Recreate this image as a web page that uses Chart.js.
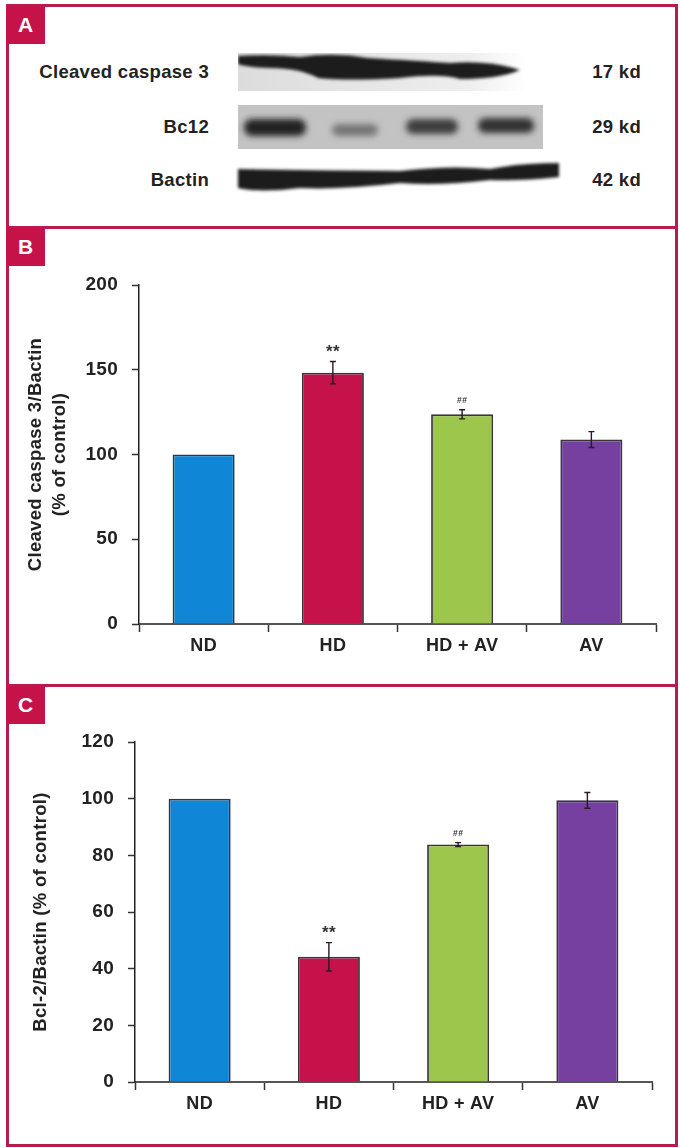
<!DOCTYPE html>
<html>
<head>
<meta charset="utf-8">
<title>Caspase 3 and Bcl-2 western blots</title>
<script src="https://cdn.jsdelivr.net/npm/chart.js@4"></script>
<style>
    html, body { margin: 0; padding: 0; background: #fff; }
    body { position: relative; width: 682px; height: 1148px; overflow: hidden; font-family: "Liberation Sans", Arial, sans-serif; }
    .panel { position: absolute; left: 6px; width: 666px; border: 3px solid #b81c4e; box-sizing: content-box; }
    .badge { position: absolute; left: 6px; width: 39px; height: 38px; background: #c5134a; color: #fff; font-weight: bold; font-size: 21px; line-height: 38px; text-align: center; z-index: 3; }
    canvas { position: absolute; left: 0; z-index: 2; }
    .blot-label { position: absolute; font-weight: bold; font-size: 18.5px; letter-spacing: 0.3px; color: #222; line-height: 20px; white-space: nowrap; }
    .blot-label.name { right: 473px; }
    .blot-label.size { right: 41px; }
    svg { position: absolute; left: 0; top: 0; z-index: 1; }
</style>
</head>
<body>
<div class="panel" style="top:4px;height:219px"></div>
<div class="panel" style="top:226px;height:455px"></div>
<div class="panel" style="top:684px;height:457px"></div>
<div class="badge" style="top:6px">A</div>
<div class="badge" style="top:228px">B</div>
<div class="badge" style="top:686px">C</div>

<div class="blot-label name" style="top:62px">Cleaved caspase 3</div>
<div class="blot-label name" style="top:117px">Bc12</div>
<div class="blot-label name" style="top:170px">Bactin</div>
<div class="blot-label size" style="top:62px">17 kd</div>
<div class="blot-label size" style="top:117px">29 kd</div>
<div class="blot-label size" style="top:170px">42 kd</div>

<svg width="682" height="230">
    <defs>
        <filter id="soft" x="-10%" y="-40%" width="120%" height="180%"><feGaussianBlur stdDeviation="1.5"></feGaussianBlur></filter>
        <filter id="softer" x="-20%" y="-60%" width="140%" height="220%"><feGaussianBlur stdDeviation="3"></feGaussianBlur></filter>
        <clipPath id="clipCasp"><rect x="238" y="53" width="290" height="38"></rect></clipPath>
        <clipPath id="clipBcl"><rect x="238" y="105" width="305" height="44"></rect></clipPath>
        <linearGradient id="fade" x1="0" y1="0" x2="1" y2="0">
            <stop offset="0" stop-color="#dcdcdc"></stop>
            <stop offset="0.8" stop-color="#eeeeee"></stop>
            <stop offset="1" stop-color="#ffffff"></stop>
        </linearGradient>
    </defs>
    <rect x="238" y="53" width="288" height="38" fill="url(#fade)"></rect>
    <g clip-path="url(#clipCasp)">
        <path d="M238 56 Q270 54 300 57 Q335 52 368 58 Q420 61 450 63 Q490 60 520 70 Q500 79 460 79 Q440 73 400 78 Q350 81 318 78 Q300 68 270 68 Q245 67 238 64 Z" fill="#1d1d1d" filter="url(#soft)"></path>
    </g>
    <rect x="238" y="105" width="305" height="44" fill="#c3c3c3"></rect>
    <g clip-path="url(#clipBcl)">
        <rect x="244" y="119" width="62" height="17" rx="8" fill="#222" filter="url(#softer)"></rect>
        <rect x="332" y="124" width="46" height="12" rx="6" fill="#757575" filter="url(#softer)"></rect>
        <rect x="406" y="119" width="52" height="15" rx="7" fill="#3d3d3d" filter="url(#softer)"></rect>
        <rect x="478" y="118" width="56" height="15" rx="7" fill="#303030" filter="url(#softer)"></rect>
    </g>
    <path d="M238 169 Q300 170 400 171 Q450 165 490 169 Q520 163 559 163 L559 177 Q520 181 490 180 Q440 186 400 183 Q340 190 300 188 Q260 193 238 188 Z" fill="#1c1c1c" filter="url(#soft)"></path>
</svg>

<canvas id="chartB" width="682" height="458" style="top:228px"></canvas>
<canvas id="chartC" width="682" height="460" style="top:686px"></canvas>

<script>
"use strict";

const categories = ['ND', 'HD', 'HD + AV', 'AV'];
const barColors = ['#0f87d6', '#c5124a', '#9dc64c', '#7640a0'];

const caspaseValues = [100, 148.3, 123.7, 108.8];
const caspaseErrors = [0, 6.6, 2.7, 4.7];
const caspaseMarks = ['', '**', '##', ''];
const caspaseTicks = [0, 50, 100, 150, 200];

const bclValues = [100, 44.2, 83.8, 99.4];
const bclErrors = [0, 5, 0.7, 2.8];
const bclMarks = ['', '**', '##', ''];
const bclTicks = [0, 20, 40, 60, 80, 100, 120];

// the original type is set a little wide
const wideText = {
    id: 'wideText',
    beforeDraw(chart) {
        chart.ctx.letterSpacing = '0.3px';
    }
};

const errorBars = {
    id: 'errorBars',
    afterDatasetsDraw(chart, args, opts) {
        const ctx = chart.ctx;
        const y = chart.scales.y;
        const bars = chart.getDatasetMeta(0).data;
        ctx.save();
        bars.forEach((bar, i) => {
            const err = opts.errors[i];
            const top = y.getPixelForValue(opts.values[i] + err);
            if (err > 0) {
                const bottom = y.getPixelForValue(opts.values[i] - err);
                ctx.strokeStyle = '#2a1a24';
                ctx.lineWidth = 1.4;
                ctx.beginPath();
                ctx.moveTo(bar.x, top);
                ctx.lineTo(bar.x, bottom);
                ctx.moveTo(bar.x - 3, top);
                ctx.lineTo(bar.x + 3, top);
                ctx.moveTo(bar.x - 3, bottom);
                ctx.lineTo(bar.x + 3, bottom);
                ctx.stroke();
            }
            const mark = opts.marks[i];
            if (mark) {
                ctx.fillStyle = '#333';
                ctx.textAlign = 'center';
                ctx.textBaseline = 'middle';
                if (mark === '**') {
                    ctx.font = 'bold 17px "Liberation Sans"';
                    ctx.fillText(mark, bar.x, top - 9);
                } else {
                    ctx.font = 'bold 8.5px "Liberation Sans"';
                    ctx.fillText(mark, bar.x, top - 9);
                }
            }
        });
        ctx.restore();
    }
};

function drawPanel(canvasId, values, errors, marks, ticks, title, box) {
    return new Chart(document.getElementById(canvasId), {
        type: 'bar',
        data: {
            labels: categories,
            datasets: [{
                data: values,
                backgroundColor: barColors,
                borderColor: '#3b3240',
                borderWidth: 1.8,
                barPercentage: 0.48,
                categoryPercentage: 1
            }]
        },
        options: {
            responsive: false,
            animation: false,
            layout: { padding: { left: 0, top: box.top, right: box.right, bottom: box.bottom } },
            plugins: {
                legend: { display: false },
                tooltip: { enabled: false },
                errorBars: { values, errors, marks }
            },
            scales: {
                x: {
                    afterFit: scale => { scale.height = 44; },
                    border: { color: '#555', width: 2 },
                    grid: { drawOnChartArea: false, tickLength: 8, tickColor: '#333', tickWidth: 1.5, offset: true },
                    ticks: { color: '#222', font: { family: '"Liberation Sans"', weight: 'bold', size: 18 }, maxRotation: 0, padding: 3 }
                },
                y: {
                    min: ticks[0],
                    max: ticks[ticks.length - 1],
                    afterFit: scale => { scale.width = box.left; },
                    afterBuildTicks: scale => { scale.ticks = ticks.map(value => ({ value })); },
                    border: { color: '#222', width: 1.5 },
                    grid: { drawOnChartArea: false, tickLength: 7, tickColor: '#333', tickWidth: 1.5 },
                    ticks: { color: '#222', font: { family: '"Liberation Sans"', weight: 'bold', size: 19 }, padding: 14 },
                    title: {
                        display: true,
                        text: title,
                        color: '#222',
                        font: { family: '"Liberation Sans"', weight: 'bold', size: 18.5, lineHeight: 1.3 },
                        padding: { top: box.titlePad, bottom: 0 }
                    }
                }
            }
        },
        plugins: [wideText, errorBars]
    });
}

drawPanel('chartB', caspaseValues, caspaseErrors, caspaseMarks, caspaseTicks,
    ['Cleaved caspase 3/Bactin', '(% of control)'],
    { left: 139, top: 57, right: 26, bottom: 18, titlePad: 24 });

drawPanel('chartC', bclValues, bclErrors, bclMarks, bclTicks,
    'Bcl-2/Bactin (% of control)',
    { left: 135, top: 56, right: 30, bottom: 20, titlePad: 29 });
</script>
</body>
</html>
